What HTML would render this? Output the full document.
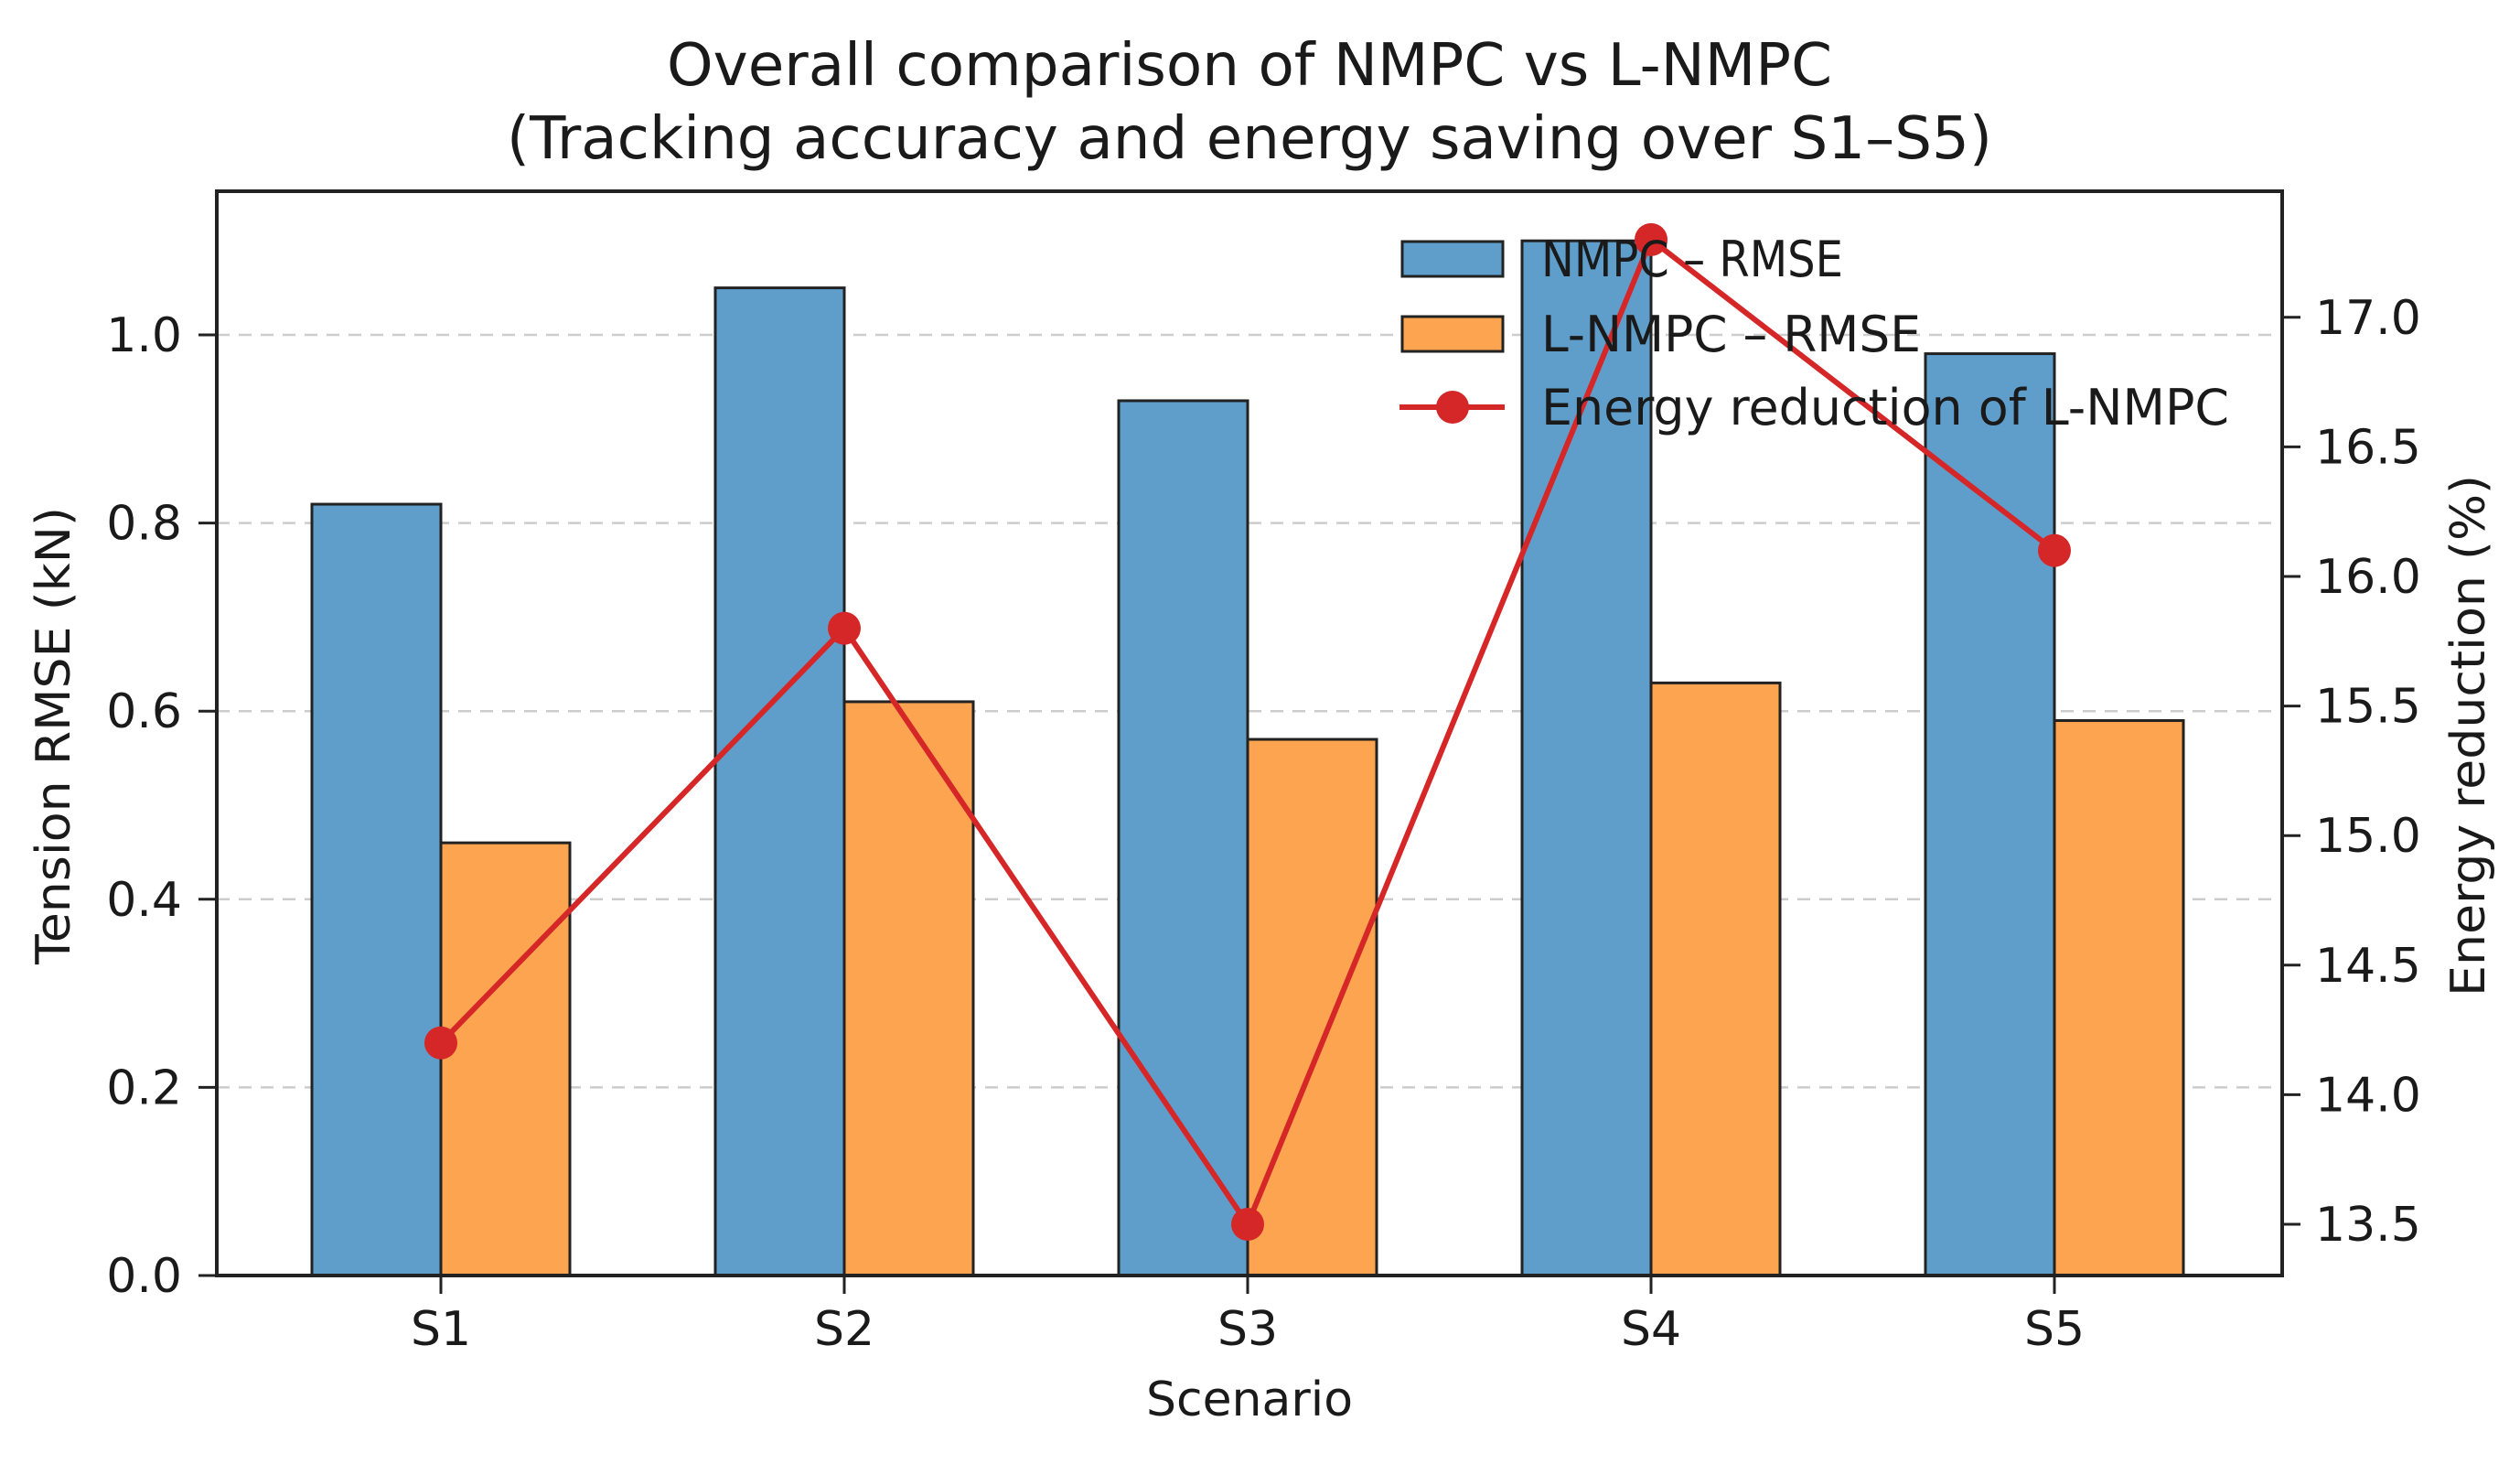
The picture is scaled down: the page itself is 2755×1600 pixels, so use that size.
<!DOCTYPE html>
<html><head><meta charset="utf-8"><style>
html,body{margin:0;padding:0;background:#fff;}
svg text{font-family:"DejaVu Sans","Liberation Sans",sans-serif;fill:#1a1a1a;}
</style></head><body>
<svg id="chart" width="2755" height="1595" viewBox="0 0 2755 1595" xmlns="http://www.w3.org/2000/svg">
<rect width="2755" height="1595" fill="#fff"/>
<text x="1366" y="93" font-size="64" text-anchor="middle" textLength="1274" lengthAdjust="spacingAndGlyphs">Overall comparison of NMPC vs L-NMPC</text>
<text x="1366" y="173" font-size="64" text-anchor="middle" textLength="1624" lengthAdjust="spacingAndGlyphs">(Tracking accuracy and energy saving over S1–S5)</text>
<g id="grid"></g>
<g id="bars"></g>
<g id="line"></g>
<rect x="237" y="209" width="2258" height="1185" fill="none" stroke="#222" stroke-width="4"/>
<g id="axes"></g>
<text x="1366" y="1547" font-size="52" text-anchor="middle">Scenario</text>
<text transform="translate(76,804) rotate(-90)" font-size="52" text-anchor="middle" textLength="500" lengthAdjust="spacingAndGlyphs">Tension RMSE (kN)</text>
<text transform="translate(2716,804) rotate(-90)" font-size="52" text-anchor="middle" textLength="570" lengthAdjust="spacingAndGlyphs">Energy reduction (%)</text>
<g id="legend">
<rect x="1533" y="264" width="110" height="38" fill="#5f9ecb" stroke="#222" stroke-width="3"/>
<text x="1685" y="302" font-size="54" textLength="330" lengthAdjust="spacingAndGlyphs">NMPC – RMSE</text>
<rect x="1533" y="346" width="110" height="38" fill="#fca44f" stroke="#222" stroke-width="3"/>
<text x="1685" y="384" font-size="54" textLength="415" lengthAdjust="spacingAndGlyphs">L-NMPC – RMSE</text>
<line x1="1530" y1="445" x2="1645" y2="445" stroke="#d62728" stroke-width="6"/>
<circle cx="1588" cy="445" r="18" fill="#d62728"/>
<text x="1685" y="464" font-size="54" textLength="752" lengthAdjust="spacingAndGlyphs">Energy reduction of L-NMPC</text>
</g>
</svg>
<script>
const categories = ["S1","S2","S3","S4","S5"];
const nmpcRmse = [0.82, 1.05, 0.93, 1.10, 0.98];
const lnmpcRmse = [0.46, 0.61, 0.57, 0.63, 0.59];
const energyReduction = [14.2, 15.8, 13.5, 17.3, 16.1];
const leftTicks = [0.0, 0.2, 0.4, 0.6, 0.8, 1.0];
const leftTickLabels = ["0.0","0.2","0.4","0.6","0.8","1.0"];
const rightTicks = [13.5, 14.0, 14.5, 15.0, 15.5, 16.0, 16.5, 17.0];
const rightTickLabels = ["13.5","14.0","14.5","15.0","15.5","16.0","16.5","17.0"];

const NS = "http://www.w3.org/2000/svg";
const L = 237, R = 2495, T = 209, B = 1394;
const x0 = 482, dx = 441, barW = 141;
function xPos(i){ return x0 + i*dx; }
function yL(v){ return B - v*1028; }
const rMin = 13.5, rY0 = 1338, rPer = 283.2;
function yR(v){ return rY0 - (v - rMin)*rPer; }
function mk(tag, attrs, parent){ const e = document.createElementNS(NS, tag); for (const k in attrs) e.setAttribute(k, attrs[k]); parent.appendChild(e); return e; }

const grid = document.getElementById('grid');
const bars = document.getElementById('bars');
const lineG = document.getElementById('line');
const axes = document.getElementById('axes');

leftTicks.forEach((v, i) => {
  const y = yL(v);
  if (v > 0) {
    const g = mk('line', {x1:L, x2:R, y1:y, y2:y, stroke:'#cccccc', 'stroke-width':2.5, 'stroke-dasharray':'14,10'}, grid);
    
    
  }
  const t = mk('line', {x1:L-20, x2:L, y1:y, y2:y, stroke:'#222', 'stroke-width':3}, axes);
  
  
  const lb = mk('text', {x:L-38, y:y+18, 'font-size':52, 'text-anchor':'end'}, axes);
  lb.textContent = leftTickLabels[i];
  
  
});
rightTicks.forEach((v, i) => {
  const y = yR(v);
  const t = mk('line', {x1:R, x2:R+20, y1:y, y2:y, stroke:'#222', 'stroke-width':3}, axes);
  
  
  const lb = mk('text', {x:R+36, y:y+18, 'font-size':52, 'text-anchor':'start'}, axes);
  lb.textContent = rightTickLabels[i];
  
  
});
categories.forEach((c, i) => {
  const cx = xPos(i);
  const b1 = mk('rect', {x:cx-barW, y:yL(nmpcRmse[i]), width:barW, height:B-yL(nmpcRmse[i]), fill:'#5f9ecb', stroke:'#222', 'stroke-width':3}, bars);
  
  
  const b2 = mk('rect', {x:cx, y:yL(lnmpcRmse[i]), width:barW, height:B-yL(lnmpcRmse[i]), fill:'#fca44f', stroke:'#222', 'stroke-width':3}, bars);
  
  
  const t = mk('line', {x1:cx, x2:cx, y1:B, y2:B+20, stroke:'#222', 'stroke-width':3}, axes);
  
  
  const lb = mk('text', {x:cx, y:1470, 'font-size':52, 'text-anchor':'middle'}, axes);
  lb.textContent = c;
  
  
});
const pts = energyReduction.map((v, i) => xPos(i) + ',' + yR(v)).join(' ');
const pl = mk('polyline', {points:pts, fill:'none', stroke:'#d62728', 'stroke-width':6}, lineG);


energyReduction.forEach((v, i) => {
  const m = mk('circle', {cx:xPos(i), cy:yR(v), r:18, fill:'#d62728'}, lineG);
  
  
});
</script>
</body></html>
